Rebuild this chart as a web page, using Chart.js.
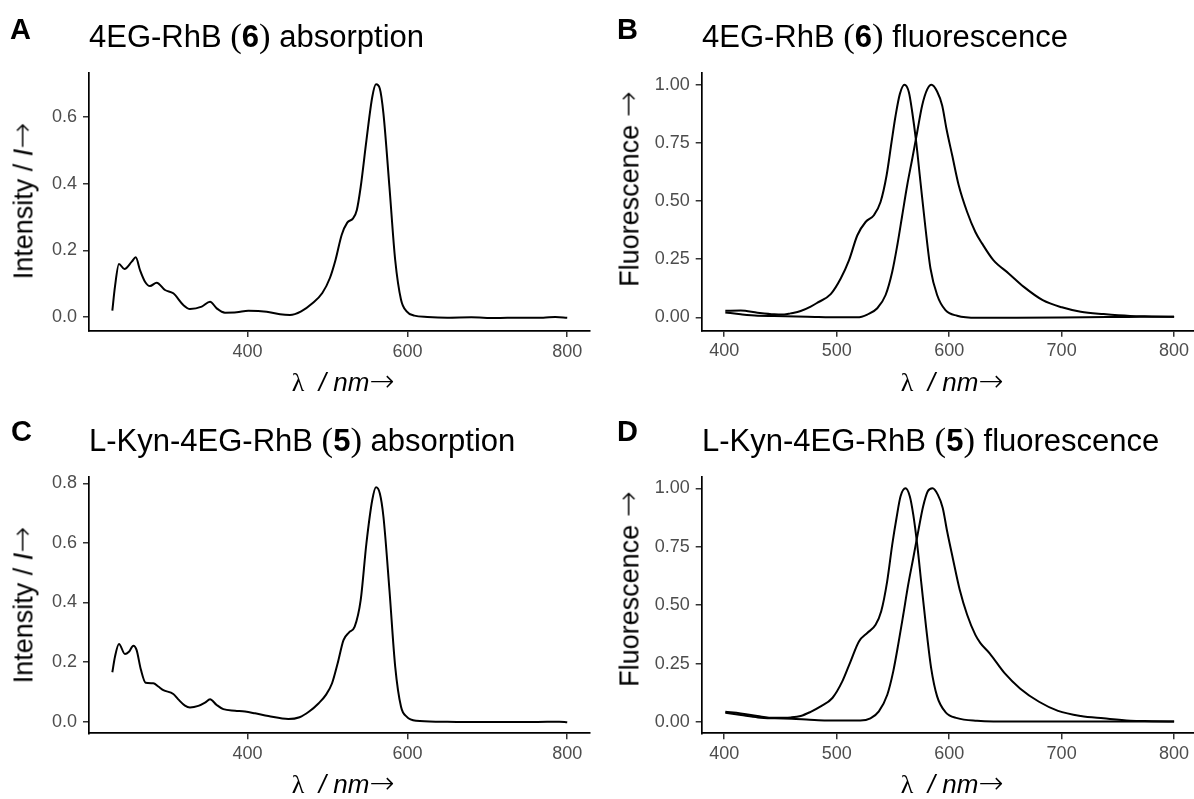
<!DOCTYPE html>
<html>
<head>
<meta charset="utf-8">
<script src="https://cdn.jsdelivr.net/npm/chart.js@4.4.1/dist/chart.umd.min.js"></script>
<style>
body { margin: 0; width: 1194px; height: 799px; overflow: hidden; background: #fff; font-family: "Liberation Sans", Arial, sans-serif; color: #000; }
.panel { position: absolute; width: 602px; height: 400px; }
.panel canvas { position: absolute; left: 0; top: 0; }
.lab { position: absolute; font-weight: bold; font-size: 29px; line-height: 1; }
.ttl { position: absolute; font-size: 31px; line-height: 1; white-space: nowrap; }
.par { font-family: "Liberation Serif", serif; font-size: 1.12em; line-height: 1; }
.xt { position: absolute; font-size: 26px; line-height: 1; white-space: nowrap; transform: translateX(-50%); }
.yt { position: absolute; font-size: 27px; line-height: 1; white-space: nowrap; transform: translate(-50%, -50%) rotate(-90deg); }
.sym { font-family: "Liberation Serif", serif; }
.arr { font-family: "DejaVu Sans", sans-serif; font-weight: 200; font-size: 1.15em; line-height: 1; }
</style>
</head>
<body>

<div class="panel" style="left:0;top:0">
  <canvas id="chartA" width="597" height="400"></canvas>
  <div class="lab" style="left:10px;top:15px">A</div>
  <div class="ttl" style="left:89px;top:19px">4EG-RhB <span class="par">(</span><b>6</b><span class="par">)</span> absorption</div>
  <div class="yt" style="left:22px;top:201px">Intensity / <i>I</i><span class="arr">→</span></div>
  <div class="xt" style="left:343px;top:366px"><span class="sym">λ</span>&nbsp; <i>/ nm</i><span class="arr">→</span></div>
</div>

<div class="panel" style="left:597px;top:0">
  <canvas id="chartB" width="602" height="400"></canvas>
  <div class="lab" style="left:20px;top:15px">B</div>
  <div class="ttl" style="left:105px;top:19px">4EG-RhB <span class="par">(</span><b>6</b><span class="par">)</span> fluorescence</div>
  <div class="yt" style="left:31px;top:189px">Fluorescence <span class="arr">→</span></div>
  <div class="xt" style="left:355px;top:366px"><span class="sym">λ</span>&nbsp; <i>/ nm</i><span class="arr">→</span></div>
</div>

<div class="panel" style="left:0;top:404px">
  <canvas id="chartC" width="597" height="400"></canvas>
  <div class="lab" style="left:11px;top:13px">C</div>
  <div class="ttl" style="left:89px;top:19px">L-Kyn-4EG-RhB <span class="par">(</span><b>5</b><span class="par">)</span> absorption</div>
  <div class="yt" style="left:22px;top:201px">Intensity / <i>I</i><span class="arr">→</span></div>
  <div class="xt" style="left:343px;top:364px"><span class="sym">λ</span>&nbsp; <i>/ nm</i><span class="arr">→</span></div>
</div>

<div class="panel" style="left:597px;top:404px">
  <canvas id="chartD" width="602" height="400"></canvas>
  <div class="lab" style="left:20px;top:13px">D</div>
  <div class="ttl" style="left:105px;top:19px">L-Kyn-4EG-RhB <span class="par">(</span><b>5</b><span class="par">)</span> fluorescence</div>
  <div class="yt" style="left:31px;top:185px">Fluorescence <span class="arr">→</span></div>
  <div class="xt" style="left:355px;top:364px"><span class="sym">λ</span>&nbsp; <i>/ nm</i><span class="arr">→</span></div>
</div>

<script>
// A: 4EG-RhB (6) absorption
var absA_nm = [230.7, 234, 239, 245.8, 255, 260, 265.3, 271.6, 277.8, 286.2, 296.6, 307, 319.5, 327.9, 342.6, 353, 361.3, 371.7, 386.4, 400.9, 423.9, 440.6, 453, 467, 481.5, 493.5, 503, 510, 517.7, 524.7, 532, 536.7, 541.5, 548.7, 556, 560.7, 565.5, 570, 577.5, 584.7, 592, 599, 608.6, 625, 650, 680, 710, 740, 770, 785, 800];
var absA_val = [0.019, 0.091, 0.159, 0.144, 0.166, 0.179, 0.141, 0.106, 0.093, 0.103, 0.081, 0.071, 0.036, 0.024, 0.031, 0.046, 0.026, 0.013, 0.014, 0.019, 0.016, 0.008, 0.006, 0.017, 0.042, 0.072, 0.117, 0.171, 0.246, 0.283, 0.296, 0.321, 0.39, 0.53, 0.66, 0.698, 0.685, 0.61, 0.39, 0.171, 0.052, 0.017, 0.004, 0, -0.002, -0.001, -0.003, -0.002, -0.002, 0, -0.002];

// B: 4EG-RhB (6) excitation / emission
var exB_nm = [401, 414.7, 429.6, 444.4, 453.3, 459, 468, 476.9, 482.9, 494.7, 503.6, 511, 518.4, 525.7, 533.1, 539, 544.4, 548.8, 552.4, 556.2, 560.3, 564.2, 567.2, 570.7, 574.5, 579, 583.4, 589.3, 596.7, 607.1, 624.8, 660, 700, 740, 770, 800];
var exB_val = [0.028, 0.029, 0.02, 0.013, 0.012, 0.017, 0.027, 0.046, 0.063, 0.1, 0.167, 0.246, 0.353, 0.41, 0.439, 0.496, 0.611, 0.754, 0.868, 0.961, 1.0, 0.968, 0.882, 0.754, 0.582, 0.382, 0.21, 0.096, 0.031, 0.007, -0.002, -0.002, -0.001, 0.001, 0.002, 0.003];
var emB_nm = [401, 414.7, 429.6, 444.4, 474, 503.5, 518.4, 527.2, 536.1, 543.5, 549.4, 553.9, 558.3, 562.7, 567.2, 571.6, 576, 580.5, 584.3, 589.3, 593.8, 597.6, 602.7, 608.5, 616, 623.3, 629.2, 639.3, 652.9, 666.4, 683.2, 700.2, 717, 737.3, 760.9, 780, 800];
var emB_val = [0.021, 0.013, 0.007, 0.006, 0.003, 0, 0, 0.012, 0.039, 0.096, 0.196, 0.31, 0.439, 0.568, 0.682, 0.797, 0.911, 0.98, 1.0, 0.971, 0.911, 0.811, 0.697, 0.568, 0.453, 0.367, 0.318, 0.246, 0.189, 0.131, 0.074, 0.043, 0.024, 0.014, 0.006, 0.004, 0.002];

// C: L-Kyn-4EG-RhB (5) absorption
var absC_nm = [230.7, 234, 239, 246.5, 251.5, 257, 261, 266.5, 272.3, 282, 288.2, 294.5, 307, 313.2, 321.6, 327.9, 338.3, 346.7, 353, 361.3, 369.6, 384.3, 396.8, 409.3, 426, 451, 465, 477, 489, 498, 505.7, 512.7, 520, 527, 534, 541.5, 548.7, 556, 560.7, 565.5, 570, 577.5, 584.7, 592, 599, 611, 640, 670, 700, 730, 760, 790, 800];
var absC_val = [0.166, 0.218, 0.261, 0.227, 0.235, 0.255, 0.241, 0.174, 0.131, 0.129, 0.118, 0.106, 0.093, 0.075, 0.054, 0.048, 0.053, 0.064, 0.075, 0.056, 0.042, 0.037, 0.034, 0.028, 0.019, 0.009, 0.015, 0.034, 0.062, 0.09, 0.129, 0.196, 0.274, 0.3, 0.319, 0.408, 0.599, 0.744, 0.787, 0.766, 0.688, 0.442, 0.185, 0.05, 0.017, 0.003, 0, -0.001, -0.001, -0.001, -0.001, 0, -0.002];

// D: L-Kyn-4EG-RhB (5) excitation / emission
var exD_nm = [401, 414.7, 429.6, 444.4, 459.3, 468, 476.9, 485.8, 496.2, 505, 512.4, 519.8, 527.2, 534.6, 539.6, 544.9, 549.4, 553.2, 556.8, 561.2, 565, 568.1, 571.6, 575.4, 579.6, 584, 589.3, 596.7, 607.1, 624.8, 660, 700, 740, 770, 800];
var exD_val = [0.044, 0.037, 0.026, 0.018, 0.02, 0.026, 0.044, 0.067, 0.103, 0.174, 0.26, 0.345, 0.381, 0.416, 0.474, 0.602, 0.759, 0.873, 0.966, 1.0, 0.966, 0.887, 0.759, 0.588, 0.402, 0.231, 0.11, 0.043, 0.017, 0.006, 0.002, 0.003, 0.003, 0.003, 0.002];
var emD_nm = [401, 415, 430, 445, 460, 476, 491, 521, 530, 537.5, 545, 550.3, 554.7, 559.2, 563.6, 568.1, 572.5, 576.9, 581, 585.2, 589.9, 594.3, 598.2, 603.2, 609.4, 616, 623.3, 627.8, 636, 649.5, 663, 679.9, 696.8, 717, 737.3, 761, 780, 800];
var emD_val = [0.04, 0.03, 0.02, 0.016, 0.014, 0.01, 0.007, 0.007, 0.016, 0.046, 0.117, 0.217, 0.331, 0.459, 0.588, 0.702, 0.816, 0.923, 0.987, 1.0, 0.973, 0.916, 0.816, 0.702, 0.566, 0.459, 0.373, 0.338, 0.294, 0.208, 0.144, 0.087, 0.048, 0.026, 0.016, 0.006, 0.004, 0.002];

// tick labels
var xTicksAbs = [400, 600, 800];
var xTicksFl = [400, 500, 600, 700, 800];
var yTicksA = [0, 0.2, 0.4, 0.6];
var yTicksC = [0, 0.2, 0.4, 0.6, 0.8];
var yTicksFl = [0, 0.25, 0.5, 0.75, 1.0];

var fontName = '"Liberation Sans", Arial, sans-serif';

function toPoints(xs, ys)
{
    var pts = [];
    for (var i = 0; i < xs.length; i++) {
        pts.push({x: xs[i], y: ys[i]});
    }
    return pts;
}

function printPanel(id, lines, opt)
{
    var canvas = document.getElementById(id);
    var datasets = [];

    for (var i = 0; i < lines.length; i++) {
        datasets.push({
            data: toPoints(lines[i][0], lines[i][1]),
            borderColor: '#000',
            borderWidth: 2,
            pointRadius: 0,
            fill: false,
            cubicInterpolationMode: 'monotone'
        });
    }

    var grid = {display: true, drawOnChartArea: false, drawTicks: true, tickLength: 6, tickColor: '#333', lineWidth: 1.5};
    var border = {display: true, color: '#000', width: 1.7};

    new Chart(canvas, {
        type: 'line',
        data: {datasets: datasets},
        options: {
            responsive: false,
            animation: false,
            events: [],
            layout: {padding: {left: 0, top: opt.area.top, right: canvas.width - opt.area.right, bottom: 0}},
            plugins: {legend: {display: false}, tooltip: {enabled: false}},
            scales: {
                x: {
                    type: 'linear',
                    min: opt.xmin,
                    max: opt.xmax,
                    grid: grid,
                    border: border,
                    afterBuildTicks: function(scale) {
                        scale.ticks = opt.xticks.map(function(v) { return {value: v}; });
                    },
                    afterFit: function(scale) {
                        scale.height = canvas.height - opt.area.bottom;
                    },
                    ticks: {
                        font: {family: fontName, size: 18},
                        color: '#4d4d4d',
                        padding: 4,
                        maxRotation: 0,
                        autoSkip: false,
                        callback: function(v) { return String(v); }
                    }
                },
                y: {
                    type: 'linear',
                    min: opt.ymin,
                    max: opt.ymax,
                    grid: grid,
                    border: border,
                    afterBuildTicks: function(scale) {
                        scale.ticks = opt.yticks.map(function(v) { return {value: v}; });
                    },
                    afterFit: function(scale) {
                        scale.width = opt.area.left;
                    },
                    ticks: {
                        font: {family: fontName, size: 18},
                        color: '#4d4d4d',
                        padding: 6,
                        autoSkip: false,
                        callback: function(v) { return v.toFixed(opt.dec); }
                    }
                }
            }
        }
    });
}

printPanel('chartA', [[absA_nm, absA_val]], {
    area: {left: 89, top: 73, right: 590, bottom: 331},
    xmin: 201.5, xmax: 828.5, xticks: xTicksAbs,
    ymin: -0.042, ymax: 0.732, yticks: yTicksA, dec: 1
});

printPanel('chartB', [[exB_nm, exB_val], [emB_nm, emB_val]], {
    area: {left: 104.7, top: 72.7, right: 599.6, bottom: 330.7},
    xmin: 380, xmax: 820, xticks: xTicksFl,
    ymin: -0.0575, ymax: 1.052, yticks: yTicksFl, dec: 2
});

printPanel('chartC', [[absC_nm, absC_val]], {
    area: {left: 89, top: 72.7, right: 590, bottom: 329.3},
    xmin: 201.5, xmax: 828.5, xticks: xTicksAbs,
    ymin: -0.039, ymax: 0.8224, yticks: yTicksC, dec: 1
});

printPanel('chartD', [[exD_nm, exD_val], [emD_nm, emD_val]], {
    area: {left: 104.7, top: 72.7, right: 599.6, bottom: 329.3},
    xmin: 380, xmax: 820, xticks: xTicksFl,
    ymin: -0.048, ymax: 1.0496, yticks: yTicksFl, dec: 2
});
</script>
</body>
</html>
